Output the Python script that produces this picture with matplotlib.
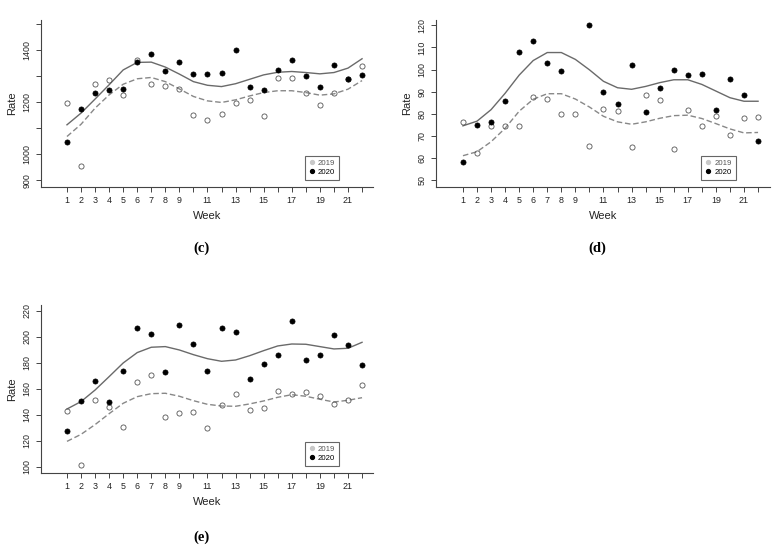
import numpy as np
import matplotlib
matplotlib.use("Agg")
import matplotlib.pyplot as plt
from matplotlib.lines import Line2D

plt.rcParams["font.family"] = ["Liberation Sans", "DejaVu Sans"]

weeks = list(range(1, 23))
week_labels = ["1", "2", "3", "4", "5", "6", "7", "8", "9", "", "11", "", "13", "",
               "15", "", "17", "", "19", "", "21", ""]

# ---- panel (c)
c_2019 = [1195, 956, 1268, 1286, 1229, 1363, 1269, 1264, 1250, 1150, 1133, 1154, 1195,
          1209, 1147, 1292, 1294, 1236, 1190, 1235, 1288, 1340]
c_2020 = [1045, 1174, 1235, 1245, 1249, 1354, 1386, 1319, 1353, 1310, 1310, 1314, 1399,
          1260, 1247, 1324, 1363, 1300, 1258, 1342, 1290, 1306]
c_fit2019 = [1068, 1115, 1177, 1228, 1269, 1290, 1295, 1279, 1251, 1222, 1205, 1199, 1209,
             1224, 1237, 1244, 1244, 1237, 1227, 1232, 1250, 1283]
c_fit2020 = [1113, 1158, 1212, 1267, 1324, 1353, 1354, 1335, 1308, 1279, 1265, 1260, 1271,
             1288, 1305, 1315, 1318, 1314, 1309, 1314, 1331, 1367]
c_yticks = [900, 1000, 1100, 1200, 1300, 1400, 1500]
c_ylabels = ["900", "1000", "", "1200", "", "1400", ""]

# ---- panel (d)
nan = float("nan")
d_2019 = [76.2, 62.4, 74.6, 74.6, 74.4, 87.8, 86.9, 80.1, 79.8, 65.3, 82.4, 81.2, 65.0,
          88.7, 86.3, 64.2, 81.6, 74.4, 78.9, 70.5, 78.2, 78.8]
d_2020 = [58.2, 75.0, 76.5, 85.8, 107.9, 112.7, 103.1, 99.5, nan, 120.1, 90.0, 84.5, 102.2,
          80.9, 91.8, 99.8, 97.5, 98.1, 81.6, 95.9, 88.5, 67.8]
d_fit2019 = [61.1, 62.9, 67.4, 73.5, 81.2, 86.6, 89.1, 89.1, 86.7, 83.1, 78.9, 76.4, 75.3,
             76.4, 78.0, 79.2, 79.4, 77.9, 75.6, 73.2, 71.4, 71.6]
d_fit2020 = [74.6, 76.7, 81.9, 89.3, 97.5, 104.1, 107.7, 107.7, 104.6, 99.9, 94.7, 91.8, 91.1,
             92.4, 94.1, 95.4, 95.4, 93.3, 90.3, 87.3, 85.7, 85.7]
d_yticks = [50, 60, 70, 80, 90, 100, 110, 120]
d_ylabels = [str(v) for v in d_yticks]

# ---- panel (e)
e_2019 = [143.3, 101.5, 151.8, 146.4, 130.8, 165.1, 170.8, 138.5, 141.8, 142.6, 130.0, 147.7,
          156.4, 143.8, 145.1, 158.2, 156.2, 157.4, 154.6, 148.5, 151.3, 162.8]
e_2020 = [128.0, 151.0, 166.4, 150.0, 173.8, 206.9, 202.3, 173.3, 209.2, 194.6, 173.8, 206.9,
          203.6, 167.4, 179.5, 186.2, 212.3, 182.3, 186.4, 201.5, 193.8, 178.7]
e_fit2019 = [119.7, 125.1, 132.6, 141.0, 149.0, 154.1, 156.4, 156.7, 154.4, 151.0, 148.2, 146.9,
             146.7, 148.5, 150.8, 153.6, 155.6, 154.4, 152.1, 150.0, 151.3, 153.3]
e_fit2020 = [144.6, 150.3, 159.2, 169.5, 180.0, 188.0, 192.1, 192.6, 190.0, 186.4, 183.3, 181.3,
             182.3, 185.6, 189.5, 193.1, 194.6, 194.4, 192.6, 190.8, 191.3, 195.9]
e_yticks = [100, 120, 140, 160, 180, 200, 220]
e_ylabels = [str(v) for v in e_yticks]

W, H = 778, 550
fig = plt.figure(figsize=(W / 100, H / 100), dpi=100)
fig.patch.set_facecolor("white")

AX_COL = "#444444"


def px_rect(left, top, right, bottom):
    return [left / W, 1 - bottom / H, (right - left) / W, (bottom - top) / H]


def panel(rect, xlim, ylim, y19, y20, f19, f20, yticks, ylabels, caption, cap_xy):
    ax = fig.add_axes(rect)
    ax.plot(weeks, f20, color="#6a6a6a", lw=1.0, solid_joinstyle="round")
    ax.plot(weeks, f19, color="#888888", lw=1.0, dashes=(4, 2))
    ax.plot(weeks, y19, ls="none", marker="o", ms=3.7, mfc="none", mec="#555555", mew=0.6)
    ax.plot(weeks, y20, ls="none", marker="o", ms=3.7, mfc="black", mec="black", mew=0.5)
    ax.set_xlim(*xlim)
    ax.set_ylim(*ylim)
    for s in ("top", "right"):
        ax.spines[s].set_visible(False)
    for s in ("left", "bottom"):
        ax.spines[s].set_color(AX_COL)
        ax.spines[s].set_linewidth(0.8)
    ax.set_xticks(weeks)
    ax.set_xticklabels(week_labels)
    ax.set_yticks(yticks)
    ax.set_yticklabels(ylabels, rotation=90, va="center")
    ax.tick_params(axis="both", length=3.5, width=0.7, color=AX_COL, labelsize=6.4,
                   labelcolor="#222222", pad=3)
    ax.set_xlabel("Week", fontsize=8, color="#222222", va="center")
    ax.set_ylabel("Rate", fontsize=8, color="#222222", va="center")
    ax.xaxis.set_label_coords(0.5, -0.176)
    ax.yaxis.set_label_coords(-0.086, 0.5)
    handles = [
        Line2D([], [], ls="none", marker="o", ms=2.8, mfc="#c8c8c8", mec="#c8c8c8"),
        Line2D([], [], ls="none", marker="o", ms=2.8, mfc="black", mec="black"),
    ]
    leg = ax.legend(handles, ["2019", "2020"], loc="lower left",
                    bbox_to_anchor=(0.795, 0.04), fontsize=5.6, frameon=True,
                    fancybox=False, edgecolor="#666666", framealpha=1,
                    borderpad=0.5, handlelength=0.8, handletextpad=0.4,
                    labelspacing=0.2, borderaxespad=0)
    leg.get_frame().set_linewidth(0.8)
    leg.get_texts()[0].set_color("#555555")
    fig.text(cap_xy[0] / W, 1 - cap_xy[1] / H, caption, ha="center", va="center",
             fontsize=10.5, family="Liberation Serif", weight="bold")
    return ax


panel(px_rect(40.7, 20, 373, 186.7), (-0.87, 22.78), (875, 1516),
      c_2019, c_2020, c_fit2019, c_fit2020, c_yticks, c_ylabels, "(c)", (201, 248))
panel(px_rect(435.7, 20, 770, 186.7), (-0.94, 22.85), (47.1, 122.4),
      d_2019, d_2020, d_fit2019, d_fit2020, d_yticks, d_ylabels, "(d)", (597, 248))
panel(px_rect(40.7, 305, 373, 472.7), (-0.87, 22.78), (95.6, 224.6),
      e_2019, e_2020, e_fit2019, e_fit2020, e_yticks, e_ylabels, "(e)", (201, 537))

fig.savefig("out.png", dpi=100, facecolor="white")
